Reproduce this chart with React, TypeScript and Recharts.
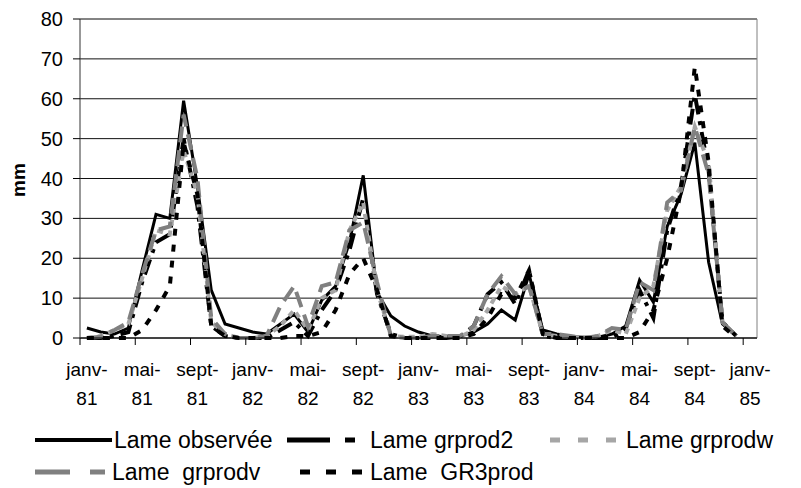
import { CartesianGrid, Line, LineChart, ReferenceLine, XAxis, YAxis } from 'recharts'

const months = [
  'janv-81', 'févr-81', 'mars-81', 'avr-81', 'mai-81', 'juin-81', 'juil-81', 'août-81', 'sept-81', 'oct-81', 'nov-81', 'déc-81',
  'janv-82', 'févr-82', 'mars-82', 'avr-82', 'mai-82', 'juin-82', 'juil-82', 'août-82', 'sept-82', 'oct-82', 'nov-82', 'déc-82',
  'janv-83', 'févr-83', 'mars-83', 'avr-83', 'mai-83', 'juin-83', 'juil-83', 'août-83', 'sept-83', 'oct-83', 'nov-83', 'déc-83',
  'janv-84', 'févr-84', 'mars-84', 'avr-84', 'mai-84', 'juin-84', 'juil-84', 'août-84', 'sept-84', 'oct-84', 'nov-84', 'déc-84',
  'janv-85',
]

const observee = [
  2.5, 1.5, 1, 2.5, 17, 31, 30, 59.5, 38, 12, 3.5, 2.5,
  1.5, 1, 3.5, 6, 1.5, 9.5, 13, 24, 40.8, 11.5, 5.5, 3,
  1.5, 0.5, 0.3, 0.5, 1.5, 3.5, 7, 4.5, 16, 2, 1, 0.3,
  0.2, 0.2, 1, 3, 14.5, 9, 28, 36, 49, 19, 3.5, 0.5,
  null,
]

const grprod2 = [
  0, 0, 0.5, 1.5, 14, 24, 26, 50, 33, 3, 0.5, 0,
  0, 0, 2, 4, 0.5, 7, 12, 22, 35, 11, 1, 0,
  0, 0, 0, 0.3, 3, 11, 14, 8.5, 17, 0.5, 0, 0,
  0, 0, 0, 2.5, 12, 5, 27, 38, 61, 42, 4, 0.5,
  null,
]

const grprodw = [
  0, 0.5, 2, 3.5, 15, 27, 26, 47, 36, 4, 1, 0,
  0, 0.5, 3, 7, 2, 10, 12, 27, 34, 12, 0.5, 0.3,
  0.3, 1, 0.5, 0.3, 2, 7, 13, 11, 13, 1, 0.5, 0.2,
  0, 0.5, 2, 1, 10, 13, 32, 38, 53, 44, 4, 0.5,
  null,
]

const grprodv = [
  0, 0.3, 2, 4, 16, 27, 28, 56, 40, 5, 1, 0,
  0, 0.5, 8, 13, 3, 13, 14, 27, 29, 14, 0.5, 0,
  0, 0.5, 0.5, 0.5, 3, 11, 15.5, 11, 13, 1, 1, 0.5,
  0, 0.5, 2.5, 2, 14, 12, 34, 37, 53, 41, 4, 0.5,
  null,
]

const gr3prod = [
  0, 0, 0, 0, 2, 7, 13, 49, 36, 3, 0.5, 0,
  0, 0, 0, 0.5, 0.5, 1.5, 7, 16, 20, 12, 0.5, 0,
  0, 0, 0, 0, 1, 5, 11, 10, 17, 1, 0, 0,
  0, 0, 0, 0, 1.5, 7, 20, 37, 68, 44, 3, 0,
  null,
]

const yTicks = [0, 10, 20, 30, 40, 50, 60, 70, 80]

const data = months.map((m, i) => ({
  month: m,
  observee: observee[i],
  grprod2: grprod2[i],
  grprodw: grprodw[i],
  grprodv: grprodv[i],
  gr3prod: gr3prod[i],
}))

const FONT = '"Liberation Sans", Arial, sans-serif'
const W = 801
const H = 488
const PLOT_LEFT = 80
const PLOT_RIGHT = 757
const STEP = (PLOT_RIGHT - PLOT_LEFT) / months.length
const HALF = STEP / 2

const series = [
  { key: 'observee', name: 'Lame observée', color: '#000', width: 3, dash: undefined },
  { key: 'grprod2', name: 'Lame grprod2', color: '#000', width: 4, dash: '16 7 4 7' },
  { key: 'grprodw', name: 'Lame grprodw', color: '#a6a6a6', width: 4, dash: '6 5' },
  { key: 'grprodv', name: 'Lame  grprodv', color: '#808080', width: 4, dash: '16 8' },
  { key: 'gr3prod', name: 'Lame  GR3prod', color: '#000', width: 4, dash: '7 9' },
]

// legend placement, two rows like the excel one
const legendItems = [
  { s: 0, y: 440, x1: 35, x2: 112, dash: undefined, tx: 114 },
  { s: 1, y: 440, x1: 287, x2: 355, dash: '43 15 10', tx: 370 },
  { s: 2, y: 440, x1: 550, x2: 616, dash: '10 18', tx: 626 },
  { s: 3, y: 472, x1: 35, x2: 105, dash: '35 20 15', tx: 112 },
  { s: 4, y: 472, x1: 300, x2: 362, dash: '10 16', tx: 370 },
]

function MonthTick(props: any) {
  const { x, y, payload } = props
  const parts = String(payload.value).split('-')
  return (
    <g>
      <line x1={x - HALF} x2={x - HALF} y1={y - 7} y2={y} stroke="#000" />
      <text x={x} y={y + 31} textAnchor="middle" fontSize={19} fontFamily={FONT} fill="#000">{parts[0]}-</text>
      <text x={x} y={y + 60} textAnchor="middle" fontSize={19} fontFamily={FONT} fill="#000">{parts[1]}</text>
    </g>
  )
}

function UnitLabel() {
  return (
    <text x={25} y={180} transform="rotate(-90 25 180)" textAnchor="middle" fontSize={19} fontWeight="bold" fontFamily={FONT} fill="#000">
      mm
    </text>
  )
}

export default function App() {
  return (
    <div style={{ position: 'absolute', left: 0, top: 0, width: W, height: H, background: '#fff' }}>
      <LineChart width={W} height={H} data={data} margin={{ top: 19, right: W - PLOT_RIGHT, left: 0, bottom: 0 }}>
        <CartesianGrid vertical={false} stroke="#111" strokeWidth={1} />
        <CartesianGrid horizontal={false} stroke="#808080" verticalCoordinatesGenerator={() => [PLOT_RIGHT]} />
        <ReferenceLine y={80} stroke="#808080" />
        <XAxis
          dataKey="month"
          interval={3}
          height={H - 338}
          padding={{ left: HALF, right: HALF }}
          tickLine={false}
          tickSize={7}
          tickMargin={0}
          tick={<MonthTick />}
          axisLine={{ stroke: '#000' }}
        />
        <YAxis
          width={PLOT_LEFT}
          domain={[0, 80]}
          ticks={yTicks}
          tickSize={7}
          tickMargin={10}
          tick={{ fontSize: 20, fontFamily: FONT, fill: '#000' }}
          tickLine={{ stroke: '#000' }}
          axisLine={{ stroke: '#333' }}
          label={{ content: <UnitLabel /> }}
        />
        {series.map((s) => (
          <Line
            key={s.key}
            type="linear"
            dataKey={s.key}
            name={s.name}
            stroke={s.color}
            strokeWidth={s.width}
            strokeDasharray={s.dash}
            dot={false}
            activeDot={false}
            isAnimationActive={false}
          />
        ))}
      </LineChart>
      <svg width={W} height={H} style={{ position: 'absolute', left: 0, top: 0, pointerEvents: 'none' }}>
        {legendItems.map((it) => {
          const s = series[it.s]
          return (
            <g key={s.key}>
              <line x1={it.x1} x2={it.x2} y1={it.y} y2={it.y} stroke={s.color} strokeWidth={it.s === 0 ? 4 : 5} strokeDasharray={it.dash} />
              <text x={it.tx} y={it.y + 8} fontSize={23} fontFamily={FONT} fill="#000" style={{ whiteSpace: 'pre' }}>{s.name}</text>
            </g>
          )
        })}
      </svg>
    </div>
  )
}
